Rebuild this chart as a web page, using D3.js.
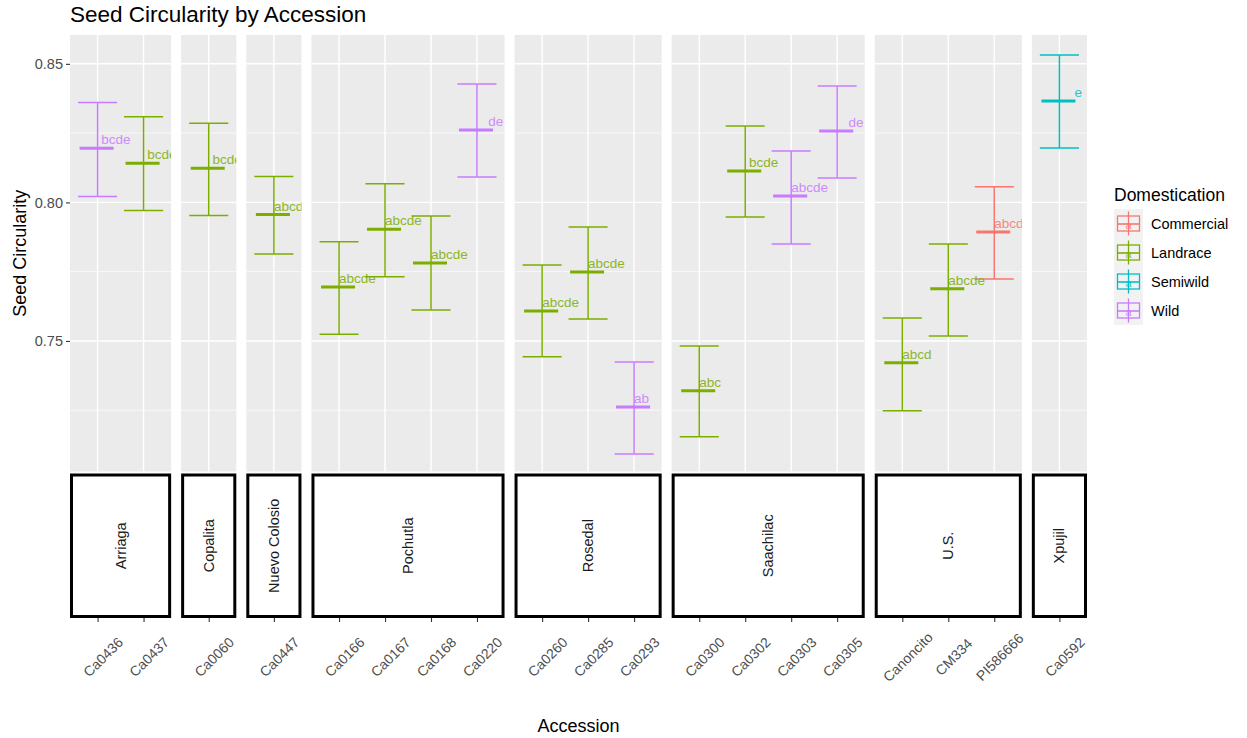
<!DOCTYPE html>
<html>
<head>
<meta charset="utf-8">
<script src="https://cdn.jsdelivr.net/npm/d3@7"></script>
<style>
  body { margin: 0; background: #fff; }
  text { font-family: "Liberation Sans", Arial, sans-serif; }
  .letter { white-space: pre; }
</style>
</head>
<body>
<svg id="chart"></svg>
<script>
// Data
const accessions = ["Ca0436", "Ca0437", "Ca0060", "Ca0447", "Ca0166", "Ca0167", "Ca0168", "Ca0220",
  "Ca0260", "Ca0285", "Ca0293", "Ca0300", "Ca0302", "Ca0303", "Ca0305", "Canoncito", "CM334", "PI586666", "Ca0592"];
const locations = ["Arriaga", "Arriaga", "Copalita", "Nuevo Colosio", "Pochutla", "Pochutla", "Pochutla", "Pochutla",
  "Rosedal", "Rosedal", "Rosedal", "Saachilac", "Saachilac", "Saachilac", "Saachilac", "U.S.", "U.S.", "U.S.", "Xpujil"];
const domestication = ["Wild", "Landrace", "Landrace", "Landrace", "Landrace", "Landrace", "Landrace", "Wild",
  "Landrace", "Landrace", "Wild", "Landrace", "Landrace", "Wild", "Wild", "Landrace", "Landrace", "Commercial", "Semiwild"];
const meanValues = [0.8195, 0.8141, 0.8123, 0.7956, 0.7695, 0.7903, 0.7781, 0.8261,
  0.7608, 0.7749, 0.7262, 0.7320, 0.8113, 0.8023, 0.8258, 0.7421, 0.7688, 0.7893, 0.8366];
const lowerValues = [0.8021, 0.7971, 0.7953, 0.7814, 0.7524, 0.7732, 0.7612, 0.8092,
  0.7443, 0.7579, 0.7092, 0.7154, 0.7947, 0.7850, 0.8088, 0.7248, 0.7518, 0.7724, 0.8196];
const upperValues = [0.8360, 0.8309, 0.8286, 0.8093, 0.7858, 0.8067, 0.7951, 0.8427,
  0.7774, 0.7911, 0.7424, 0.7482, 0.8276, 0.8185, 0.8420, 0.7583, 0.7850, 0.8056, 0.8532];
const letters = ["bcde", "bcde", "bcde", "abcd", "abcde", "abcde", "abcde", "de",
  "abcde", "abcde", "ab", "abc", "bcde", "abcde", "de", "abcd", "abcde", "abcd", "e"];
const domLevels = ["Commercial", "Landrace", "Semiwild", "Wild"];
const domColors = ["#F8766D", "#7CAE00", "#00BFC4", "#C77CFF"];
const yTicks = [0.75, 0.80, 0.85];
const yMinorTicks = [0.725, 0.775, 0.825];

const width = 1247, height = 738;
const panelLeft = 70, panelRight = 1087, panelTop = 35, panelBottom = 471.5;
const panelGap = 10;
const stripTop = 473.5, stripBottom = 618;

const svg = d3.select("#chart").attr("width", width).attr("height", height);

const data = accessions.map((a, i) => ({
  accession: a, location: locations[i], dom: domestication[i],
  mean: meanValues[i], lower: lowerValues[i], upper: upperValues[i], letter: letters[i]
}));

const color = d3.scaleOrdinal().domain(domLevels).range(domColors);
const y = d3.scaleLinear().domain([0.7029, 0.8604]).range([panelBottom, panelTop]);

// Panel layout: ggplot discrete expansion of 0.6 on each side
const groups = Array.from(new Set(locations));
const counts = groups.map(g => locations.filter(l => l === g).length);
const unit = (panelRight - panelLeft - panelGap * (groups.length - 1)) / d3.sum(counts, n => n + 0.2);

let xCursor = panelLeft;
const panels = groups.map((g, i) => {
  const w = (counts[i] + 0.2) * unit;
  const p = {
    name: g, x0: xCursor, w: w,
    scale: d3.scalePoint().domain(data.filter(d => d.location === g).map(d => d.accession))
      .range([xCursor, xCursor + w]).padding(0.6)
  };
  xCursor += w + panelGap;
  return p;
});

// letters are left-padded with spaces so that each letter keeps its column
const padLetters = s => " ".repeat(s.charCodeAt(0) - 97) + s;

const defs = svg.append("defs");

// Title
svg.append("text")
  .attr("x", 70).attr("y", 22)
  .style("font-size", "22.5px")
  .attr("fill", "#000")
  .text("Seed Circularity by Accession");

panels.forEach((p, pi) => {
  const g = svg.append("g");
  defs.append("clipPath").attr("id", "clip" + pi)
    .append("rect").attr("x", p.x0).attr("y", panelTop).attr("width", p.w).attr("height", panelBottom - panelTop);

  g.append("rect")
    .attr("x", p.x0).attr("y", panelTop)
    .attr("width", p.w).attr("height", panelBottom - panelTop)
    .attr("fill", "#EBEBEB");

  // Minor grid
  g.selectAll(".minor").data(yMinorTicks).join("line")
    .attr("x1", p.x0).attr("x2", p.x0 + p.w)
    .attr("y1", d => y(d)).attr("y2", d => y(d))
    .attr("stroke", "#fff").attr("stroke-width", 0.7);
  // Major grid
  g.selectAll(".major").data(yTicks).join("line")
    .attr("x1", p.x0).attr("x2", p.x0 + p.w)
    .attr("y1", d => y(d)).attr("y2", d => y(d))
    .attr("stroke", "#fff").attr("stroke-width", 1.4);
  g.selectAll(".vgrid").data(p.scale.domain()).join("line")
    .attr("x1", d => p.scale(d)).attr("x2", d => p.scale(d))
    .attr("y1", panelTop).attr("y2", panelBottom)
    .attr("stroke", "#fff").attr("stroke-width", 1.4);

  const pd = data.filter(d => d.location === p.name);
  const marks = g.append("g").attr("clip-path", `url(#clip${pi})`);
  const capW = unit * 0.85, meanW = unit * 0.74;

  marks.selectAll(".stem").data(pd).join("line")
    .attr("x1", d => p.scale(d.accession)).attr("x2", d => p.scale(d.accession))
    .attr("y1", d => y(d.lower)).attr("y2", d => y(d.upper))
    .attr("stroke", d => color(d.dom)).attr("stroke-width", 1.5);
  marks.selectAll(".capTop").data(pd).join("line")
    .attr("x1", d => p.scale(d.accession) - capW / 2).attr("x2", d => p.scale(d.accession) + capW / 2)
    .attr("y1", d => y(d.upper)).attr("y2", d => y(d.upper))
    .attr("stroke", d => color(d.dom)).attr("stroke-width", 1.5);
  marks.selectAll(".capBot").data(pd).join("line")
    .attr("x1", d => p.scale(d.accession) - capW / 2).attr("x2", d => p.scale(d.accession) + capW / 2)
    .attr("y1", d => y(d.lower)).attr("y2", d => y(d.lower))
    .attr("stroke", d => color(d.dom)).attr("stroke-width", 1.5);
  marks.selectAll(".mean").data(pd).join("line")
    .attr("x1", d => p.scale(d.accession) - meanW / 2 - 1).attr("x2", d => p.scale(d.accession) + meanW / 2 - 1)
    .attr("y1", d => y(d.mean)).attr("y2", d => y(d.mean))
    .attr("stroke", d => color(d.dom)).attr("stroke-width", 3);
  marks.selectAll(".letter").data(pd).join("text")
    .attr("class", "letter")
    .attr("x", d => p.scale(d.accession))
    .attr("y", d => y(d.mean) - 4)
    .attr("fill", d => color(d.dom))
    .attr("opacity", 0.85)
    .style("font-size", "13.5px")
    .text(d => padLetters(d.letter));

  // Strip box at bottom
  g.append("rect")
    .attr("x", p.x0 + 1.5).attr("y", stripTop + 1.5)
    .attr("width", p.w - 3).attr("height", stripBottom - stripTop - 3)
    .attr("fill", "#fff").attr("stroke", "#000").attr("stroke-width", 3);
  const cx = p.x0 + p.w / 2, cy = (stripTop + stripBottom) / 2;
  g.append("text")
    .attr("transform", `translate(${cx},${cy}) rotate(-90)`)
    .attr("text-anchor", "middle").attr("dominant-baseline", "central")
    .style("font-size", "14.5px").attr("fill", "#1A1A1A")
    .text(p.name);

  // x axis below strip
  const ax = g.append("g")
    .attr("transform", `translate(0,${stripBottom})`)
    .call(d3.axisBottom(p.scale).tickSize(4).tickSizeOuter(0));
  ax.select(".domain").remove();
  ax.selectAll(".tick line").attr("stroke", "#333").attr("stroke-width", 1.1);
  ax.selectAll(".tick text")
    .attr("y", null).attr("dy", null)
    .attr("text-anchor", "middle").attr("dominant-baseline", "central")
    .attr("transform", "translate(5,39) rotate(-45)")
    .attr("fill", "#4D4D4D")
    .style("font-size", "14px")
    .style("font-family", "'Liberation Sans', Arial, sans-serif");
});

// y axis
const yAxis = svg.append("g")
  .attr("transform", `translate(${panelLeft},0)`)
  .call(d3.axisLeft(y).tickValues(yTicks).tickFormat(d3.format(".2f")).tickSize(4).tickPadding(3));
yAxis.select(".domain").remove();
yAxis.selectAll(".tick line").attr("stroke", "#333").attr("stroke-width", 1.1);
yAxis.selectAll(".tick text")
  .attr("fill", "#4D4D4D")
  .style("font-size", "14.5px")
  .style("font-family", "'Liberation Sans', Arial, sans-serif");

// Axis titles
svg.append("text")
  .attr("transform", `translate(26,${(panelTop + panelBottom) / 2}) rotate(-90)`)
  .attr("text-anchor", "middle")
  .style("font-size", "18px")
  .text("Seed Circularity");
svg.append("text")
  .attr("x", (panelLeft + panelRight) / 2).attr("y", 732)
  .attr("text-anchor", "middle")
  .style("font-size", "18px")
  .text("Accession");

// Legend
const legend = svg.append("g").attr("transform", "translate(1114,0)");
legend.append("text")
  .attr("x", 0).attr("y", 201)
  .style("font-size", "17.5px")
  .text("Domestication");
const keyTop = 209, keyH = 29, keyW = 29;
legend.append("rect")
  .attr("x", 0).attr("y", keyTop)
  .attr("width", keyW).attr("height", keyH * domLevels.length)
  .attr("fill", "#F2F2F2");
domLevels.forEach((lvl, i) => {
  const c = color(lvl);
  const ky = keyTop + i * keyH + keyH / 2;
  const k = legend.append("g");
  k.append("line").attr("x1", keyW / 2).attr("x2", keyW / 2)
    .attr("y1", ky - 12).attr("y2", ky + 12)
    .attr("stroke", c).attr("stroke-width", 1.3);
  k.append("rect").attr("x", 3.5).attr("y", ky - 7.5)
    .attr("width", keyW - 7).attr("height", 15)
    .attr("fill", "none").attr("stroke", c).attr("stroke-width", 1.3);
  k.append("line").attr("x1", 3.5).attr("x2", keyW - 3.5)
    .attr("y1", ky + 0.5).attr("y2", ky + 0.5)
    .attr("stroke", c).attr("stroke-width", 1.6);
  k.append("text").attr("x", keyW / 2).attr("y", ky + 1)
    .attr("text-anchor", "middle").attr("dominant-baseline", "central")
    .attr("fill", c).attr("opacity", 0.8).style("font-size", "11px")
    .text("a");
  legend.append("text")
    .attr("x", keyW + 8).attr("y", ky)
    .attr("dominant-baseline", "central")
    .style("font-size", "14.5px").attr("fill", "#000")
    .text(lvl);
});
</script>
</body>
</html>
